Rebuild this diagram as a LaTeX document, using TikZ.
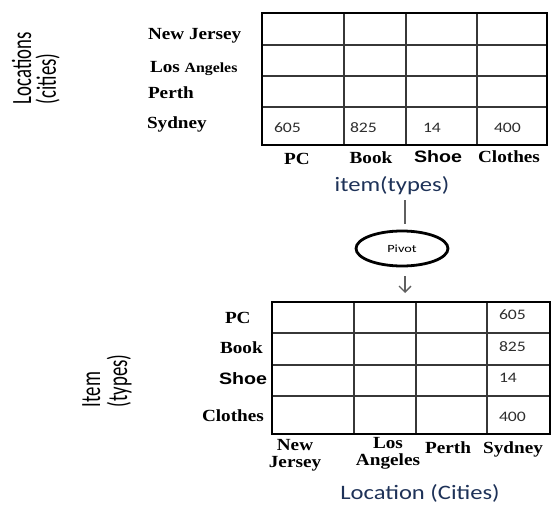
\documentclass[tikz,border=0pt]{standalone}
\usepackage{fontspec}
\usepackage{graphicx}
\setmainfont{Liberation Serif}
\newfontfamily\calib{Carlito}
\newfontfamily\arialf{Liberation Sans}
\usetikzlibrary{arrows.meta,shapes.geometric,calc}
\definecolor{navy}{RGB}{30,50,88}
\definecolor{gridc}{RGB}{55,55,55}
\definecolor{numc}{RGB}{45,45,45}
\definecolor{connc}{RGB}{95,95,95}
% horizontally widened text
\newcommand\hs[2][1.13]{\scalebox{#1}[1]{#2}}
\newcommand\tms[1]{\hs{\fontsize{17}{17}\selectfont\bfseries #1}}
\newcommand\shoe{\hs[1.19]{\arialf\fontsize{16.5}{16.5}\selectfont\bfseries Shoe}}
\newcommand\num[1]{\hs[1.22]{\calib\fontsize{14.5}{14.5}\selectfont\color{numc}#1}}
\newcommand\vlab[1]{\scalebox{0.78}[1.16]{\calib\fontsize{24}{24}\selectfont #1}}

\begin{document}
\begin{tikzpicture}[x=1pt,y=-1pt,
  txt/.style={inner sep=0pt, outer sep=0pt, anchor=base west},
  ctxt/.style={inner sep=0pt, outer sep=0pt, anchor=base},
  two/.style={inner sep=0pt, outer sep=0pt, anchor=north, align=center,
    font=\fontsize{17}{17.3}\selectfont\bfseries},
  vtxt/.style={inner sep=0pt, outer sep=0pt, anchor=base west, rotate=90},
  tblbox/.style={draw=black, line width=2.6pt, inner sep=0pt, outer sep=0pt,
    anchor=north west},
  gridline/.style={draw=gridc, line width=1.3pt},
  conn/.style={draw=connc, line width=1.4pt},
]
\useasboundingbox (0,0) rectangle (552,506);

% ---------- upper table: cities x item types ----------
\foreach \x in {344,406,477} \draw[gridline] (\x,13) -- (\x,145);
\foreach \y in {45,76,107} \draw[gridline] (262,\y) -- (547,\y);
\node[tblbox, minimum width=285, minimum height=132] (t1) at (262,13) {};

\node[txt] (nj)  at (148,39)  {\tms{New Jersey}};
\node[txt] (la)  at (150,72)  {\hs{\fontsize{17}{17}\selectfont\bfseries Los {\fontsize{14}{14}\selectfont Angeles}}};
\node[txt] (pe)  at (148,98)  {\tms{Perth}};
\node[txt] (sy)  at (147,128) {\tms{Sydney}};

\node[txt] (v1) at (274,132) {\num{605}};
\node[txt] (v2) at (350,132) {\num{825}};
\node[txt] (v3) at (423,132) {\num{14}};
\node[txt] (v4) at (494,132) {\num{400}};

\node[ctxt] (pc)  at (297,164) {\tms{PC}};
\node[ctxt] (bk)  at (371,163) {\tms{Book}};
\node[ctxt] (sh)  at (438,162) {\shoe};
\node[ctxt] (cl)  at (509,162) {\tms{Clothes}};

\node[ctxt] (itemlbl) at (392,191)
  {\hs[1.2]{\calib\fontsize{20.5}{20.5}\selectfont\color{navy}item(types)}};

\node[vtxt] (loc1) at (31,104) {\vlab{Locations}};
\node[vtxt] (loc2) at (56,104) {\vlab{(cities)}};

% ---------- pivot step ----------
\coordinate (stem) at (405,0);
\node[ellipse, draw=black, line width=2.8pt, minimum width=92, minimum height=35,
  inner sep=0pt] (pivot) at (402,248.5)
  {\hs[1.3]{\calib\fontsize{11}{11}\selectfont Pivot}};

% ---------- lower table: item types x cities ----------
\foreach \x in {354,416,487} \draw[gridline] (\x,302) -- (\x,434);
\foreach \y in {333,365,396} \draw[gridline] (272,\y) -- (550,\y);
\node[tblbox, minimum width=278, minimum height=132] (t2) at (272,302) {};

\draw[conn] ($(itemlbl.south -| stem)+(0,6)$) -- ($(pivot.north -| stem)+(0,-6)$);
\coordinate (tip) at ($(t2.north -| stem)+(0,-9)$);
\draw[conn, -{Straight Barb[length=6pt, width=12pt, line width=1.3pt]}]
  ($(pivot.south -| stem)+(0,9)$) -- (tip);

\node[txt] (r1) at (225,323) {\tms{PC}};
\node[txt] (r2) at (220,353) {\tms{Book}};
\node[txt] (r3) at (219,384) {\shoe};
\node[txt] (r4) at (202,421) {\tms{Clothes}};

\node[txt] (w1) at (499,319) {\num{605}};
\node[txt] (w2) at (499,351) {\num{825}};
\node[txt] (w3) at (499,382) {\num{14}};
\node[txt] (w4) at (499,421) {\num{400}};

\node[two] (c1) at (295,439) {\hs{New}\\\hs{Jersey}};
\node[two] (c2) at (388,437) {\hs{Los}\\\hs{Angeles}};
\node[ctxt] (c3) at (448,453) {\tms{Perth}};
\node[ctxt] (c4) at (513,453) {\tms{Sydney}};

\node[ctxt] (loclbl) at (420,499.5)
  {\hs[1.2]{\calib\fontsize{20.5}{20.5}\selectfont\color{navy}Location (Cities)}};

\node[vtxt] (it1) at (100,407) {\vlab{Item}};
\node[vtxt] (it2) at (127,407) {\vlab{(types)}};
\end{tikzpicture}
\end{document}
